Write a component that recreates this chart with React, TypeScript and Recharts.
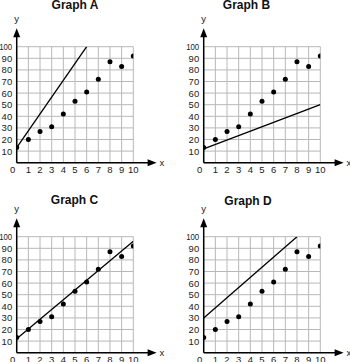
import { ScatterChart, Scatter, XAxis, YAxis, CartesianGrid, ReferenceLine, ReferenceDot } from 'recharts'

// shared data points (same on every graph)
const xValues = [0, 1, 2, 3, 4, 5, 6, 7, 8, 9, 10]
const yValues = [13, 20, 27, 31, 42, 53, 61, 72, 87, 83, 92]

// one fitted line per graph: A, B, C, D
const titles = ['Graph A', 'Graph B', 'Graph C', 'Graph D']
const lineStartX = [0, 0, 0, 0]
const lineStartY = [13, 12, 12, 30]
const lineEndX = [6, 10, 10, 8]
const lineEndY = [100, 50, 96, 100]

const xTicks = [0, 1, 2, 3, 4, 5, 6, 7, 8, 9, 10]
const yTicks = [0, 10, 20, 30, 40, 50, 60, 70, 80, 90, 100]

const FONT = '"Liberation Sans", Arial, sans-serif'
const PAD = 12 // extra room left of the y axis so tick labels are not clipped

const points = xValues.map((x, i) => ({ x, y: yValues[i] }))

const XTick = (props: any) => {
    const { x, y, payload } = props
    const dx = payload.value === 0 ? -4 : 0
    return (
        <text x={x + dx} y={y + 9.8} textAnchor="middle" fontSize={9.5} fontFamily={FONT} fill="#222">
            {payload.value}
        </text>
    )
}

const YTick = (props: any) => {
    const { x, y, payload } = props
    if (payload.value === 0) return <g />
    const wide = String(payload.value).length > 2
    return (
        <text
            x={x - 4.5}
            y={y + 3.4}
            textAnchor="end"
            fontSize={9.5}
            fontFamily={FONT}
            fill="#222"
            textLength={wide ? 13 : undefined}
            lengthAdjust={wide ? 'spacingAndGlyphs' : undefined}
        >
            {payload.value}
        </text>
    )
}

const Dot = (props: any) => <circle cx={props.cx} cy={props.cy} r={2.5} fill="#000" />

const UpArrow = (props: any) => {
    const { cx, cy } = props
    return (
        <g>
            <polygon points={`${cx},${cy} ${cx - 3.5},${cy + 9} ${cx + 3.5},${cy + 9}`} fill="#000" />
            <text x={cx} y={cy - 6} textAnchor="middle" fontSize={9.5} fontFamily={FONT} fill="#222">y</text>
        </g>
    )
}

const RightArrow = (props: any) => {
    const { cx, cy } = props
    return (
        <g>
            <polygon points={`${cx},${cy} ${cx - 9},${cy - 3.5} ${cx - 9},${cy + 3.5}`} fill="#000" />
            <text x={cx + 3} y={cy + 3} textAnchor="start" fontSize={9.5} fontFamily={FONT} fill="#222">x</text>
        </g>
    )
}

const Panel = ({ idx, left, top }: { idx: number; left: number; top: number }) => {
    const fit = [
        { x: lineStartX[idx], y: lineStartY[idx] },
        { x: lineEndX[idx], y: lineEndY[idx] },
    ]
    return (
        <div style={{ position: 'absolute', left: left - PAD, top }}>
            <ScatterChart width={165 + PAD} height={181} margin={{ top: 46.7, right: 31.7, bottom: 0, left: PAD }}>
                <CartesianGrid stroke="#b8b8b8" strokeWidth={1} />
                <XAxis
                    type="number"
                    dataKey="x"
                    domain={[0, 10]}
                    ticks={xTicks}
                    interval={0}
                    height={18.3}
                    axisLine={false}
                    tickLine={false}
                    tickSize={0}
                    tickMargin={0}
                    tick={<XTick />}
                    allowDataOverflow
                />
                <YAxis
                    type="number"
                    dataKey="y"
                    domain={[0, 100]}
                    ticks={yTicks}
                    interval={0}
                    width={16.7}
                    axisLine={false}
                    tickLine={false}
                    tickSize={0}
                    tickMargin={0}
                    tick={<YTick />}
                    allowDataOverflow
                />
                {/* axes with arrows */}
                <ReferenceLine segment={[{ x: 0, y: 0 }, { x: 11.5, y: 0 }]} stroke="#000" strokeWidth={1.5} ifOverflow="visible" />
                <ReferenceLine segment={[{ x: 0, y: 0 }, { x: 0, y: 110 }]} stroke="#000" strokeWidth={1.5} ifOverflow="visible" />
                <ReferenceDot x={12} y={0} ifOverflow="visible" shape={<RightArrow />} />
                <ReferenceDot x={0} y={116} ifOverflow="visible" shape={<UpArrow />} />

                <Scatter
                    data={fit}
                    line={{ stroke: '#000', strokeWidth: 1.3 }}
                    shape={() => <g />}
                    isAnimationActive={false}
                />
                <Scatter data={points} shape={<Dot />} isAnimationActive={false} />
            </ScatterChart>
        </div>
    )
}

export default function App() {
    return (
        <div style={{ position: 'absolute', left: 0, top: 0, width: 350, height: 362, background: '#fff', overflow: 'hidden' }}>
            <Panel idx={0} left={0} top={0} />
            <Panel idx={1} left={187.3} top={0} />
            <Panel idx={2} left={0} top={190} />
            <Panel idx={3} left={187.3} top={190} />
            <svg width={350} height={362} style={{ position: 'absolute', left: 0, top: 0, pointerEvents: 'none' }}>
                <text x={75} y={8.5} textAnchor="middle" fontSize={12} fontWeight="bold" fontFamily={FONT} fill="#111">{titles[0]}</text>
                <text x={246.5} y={8.5} textAnchor="middle" fontSize={12} fontWeight="bold" fontFamily={FONT} fill="#111">{titles[1]}</text>
                <text x={74.5} y={204} textAnchor="middle" fontSize={12} fontWeight="bold" fontFamily={FONT} fill="#111">{titles[2]}</text>
                <text x={248} y={205} textAnchor="middle" fontSize={12} fontWeight="bold" fontFamily={FONT} fill="#111">{titles[3]}</text>
            </svg>
        </div>
    )
}
